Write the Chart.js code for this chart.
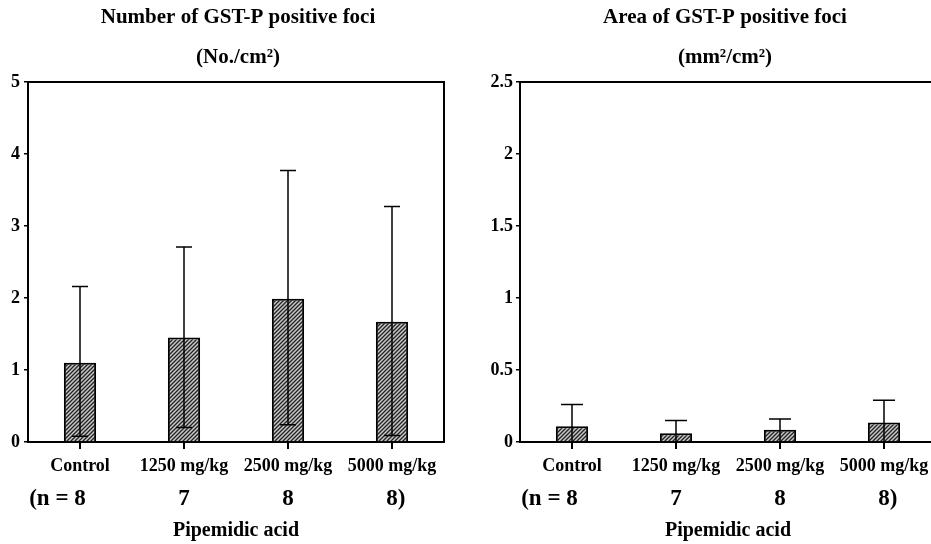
<!DOCTYPE html>
<html>
<head>
<meta charset="utf-8">
<script src="https://cdn.jsdelivr.net/npm/chart.js@4/dist/chart.umd.min.js"></script>
<style>
  html, body { margin: 0; padding: 0; background: #fff; }
  body { width: 931px; height: 544px; overflow: hidden; position: relative; }
  .panel { position: absolute; top: 0; }
  #leftPanel { left: 0; width: 466px; height: 544px; }
  #rightPanel { left: 466px; width: 472px; height: 544px; }
</style>
</head>
<body>
<div class="panel" id="leftPanel"><canvas id="numberChart" width="466" height="544"></canvas></div>
<div class="panel" id="rightPanel"><canvas id="areaChart" width="472" height="544"></canvas></div>
<script>
// Groups and group sizes
const doseLabels = ["Control", "1250 mg/kg", "2500 mg/kg", "5000 mg/kg"];
const groupSizes = ["8", "7", "8", "8"];
const xAxisTitle = "Pipemidic acid";

// Number of GST-P positive foci (No./cm2)
const numberTitle = ["Number of GST-P positive foci", "(No./cm²)"];
const numberMeans = [1.10, 1.45, 1.99, 1.67];
const numberUpper = [2.16, 2.71, 3.77, 3.27];
const numberLower = [0.08, 0.20, 0.24, 0.09];
const numberTicks = [0, 1, 2, 3, 4, 5];

// Area of GST-P positive foci (mm2/cm2)
const areaTitle = ["Area of GST-P positive foci", "(mm²/cm²)"];
const areaMeans = [0.11, 0.06, 0.085, 0.135];
const areaUpper = [0.26, 0.15, 0.16, 0.29];
const areaLower = [0, 0, 0, 0];
const areaTicks = [0, 0.5, 1, 1.5, 2, 2.5];

const FONT = "'Liberation Serif', 'Times New Roman', serif";

function makeHatch() {
  const c = document.createElement("canvas");
  c.width = 4;
  c.height = 4;
  const g = c.getContext("2d");
  g.fillStyle = "#c8c8c8";
  g.fillRect(0, 0, 4, 4);
  g.strokeStyle = "#222";
  g.lineWidth = 1.3;
  g.beginPath();
  g.moveTo(-1, 5); g.lineTo(5, -1);
  g.moveTo(-3, 3); g.lineTo(3, -3);
  g.moveTo(1, 7); g.lineTo(7, 1);
  g.stroke();
  return g.createPattern(c, "repeat");
}

// error bars, frame, panel titles and the (n = ...) row
const decorPlugin = {
  id: "decor",
  afterDatasetsDraw(chart, args, opts) {
    const { ctx, chartArea } = chart;
    const xs = chart.scales.x;
    const ys = chart.scales.y;
    ctx.save();
    ctx.strokeStyle = "#000";
    ctx.lineWidth = 1.5;
    opts.upper.forEach((u, i) => {
      const x = xs.getPixelForValue(i);
      const yTop = ys.getPixelForValue(u);
      const lo = opts.lower[i];
      const yBot = ys.getPixelForValue(Math.max(lo, 0));
      ctx.beginPath();
      ctx.moveTo(x, yBot);
      ctx.lineTo(x, yTop);
      ctx.moveTo(x - opts.cap, yTop);
      ctx.lineTo(x + opts.cap, yTop);
      if (lo > 0) {
        ctx.moveTo(x - opts.cap, yBot);
        ctx.lineTo(x + opts.cap, yBot);
      }
      ctx.stroke();
    });

    // top and right sides of the box
    ctx.lineWidth = 2;
    ctx.beginPath();
    ctx.moveTo(chartArea.left, chartArea.top);
    ctx.lineTo(chartArea.right, chartArea.top);
    ctx.lineTo(chartArea.right, chartArea.bottom);
    ctx.stroke();

    ctx.fillStyle = "#000";
    ctx.textBaseline = "middle";

    // title lines centred over the plot box
    const cx = (chartArea.left + chartArea.right) / 2;
    ctx.font = "bold 21px " + FONT;
    ctx.textAlign = "center";
    opts.title.forEach((line, i) => {
      ctx.fillText(line, cx + opts.titleShift, 18 + i * 40);
    });

    // group sizes: the number sits under the tick, brackets hang outside
    ctx.font = "bold 23px " + FONT;
    const last = groupSizes.length - 1;
    groupSizes.forEach((n, i) => {
      const x = xs.getPixelForValue(i);
      const y = 499;
      ctx.textAlign = "center";
      ctx.fillText(n, x, y);
      const half = ctx.measureText(n).width / 2;
      if (i === 0) {
        ctx.textAlign = "right";
        ctx.fillText("(n = ", x - half, y);
      }
      if (i === last) {
        ctx.textAlign = "left";
        ctx.fillText(")", x + half, y);
      }
    });
    ctx.restore();
  },
};

function buildChart(canvasId, cfg) {
  const ctx = document.getElementById(canvasId);
  return new Chart(ctx, {
    type: "bar",
    data: {
      labels: doseLabels,
      datasets: [
        {
          data: cfg.means,
          backgroundColor: makeHatch(),
          borderColor: "#000",
          borderWidth: 2,
          barPercentage: 0.31,
          categoryPercentage: 1,
        },
      ],
    },
    options: {
      responsive: false,
      animation: false,
      layout: {
        padding: { top: 82, right: cfg.padRight, left: 0, bottom: 0 },
      },
      plugins: {
        legend: { display: false },
        tooltip: { enabled: false },
        decor: {
          upper: cfg.upper,
          lower: cfg.lower,
          cap: cfg.cap,
          title: cfg.title,
          titleShift: cfg.titleShift,
        },
      },
      scales: {
        x: {
          afterFit: (scale) => {
            scale.height = 102;
          },
          border: { display: true, color: "#000", width: 2 },
          grid: {
            offset: false,
            drawOnChartArea: false,
            drawTicks: true,
            tickLength: 7,
            color: "#000",
            lineWidth: 2,
          },
          ticks: {
            color: "#000",
            padding: 7,
            maxRotation: 0,
            autoSkip: false,
            font: { family: FONT, size: 18, weight: "bold", lineHeight: 1.2 },
          },
          title: {
            display: true,
            text: xAxisTitle,
            color: "#000",
            font: { family: FONT, size: 20, weight: "bold" },
            padding: { top: 0, bottom: 1 },
          },
        },
        y: {
          min: 0,
          max: cfg.ticks[cfg.ticks.length - 1],
          afterFit: (scale) => {
            scale.width = cfg.axisWidth;
          },
          afterBuildTicks: (scale) => {
            scale.ticks = cfg.ticks.map((v) => ({ value: v }));
          },
          border: { display: true, color: "#000", width: 2 },
          grid: {
            drawOnChartArea: false,
            drawTicks: true,
            tickLength: 4,
            color: "#000",
            lineWidth: 1.5,
          },
          ticks: {
            color: "#000",
            padding: cfg.tickPad,
            font: { family: FONT, size: 18, weight: "bold" },
            callback: (value) => String(value),
          },
        },
      },
    },
    plugins: [decorPlugin],
  });
}

buildChart("numberChart", {
  means: numberMeans,
  upper: numberUpper,
  lower: numberLower,
  ticks: numberTicks,
  title: numberTitle,
  cap: 8,
  axisWidth: 28,
  padRight: 22,
  tickPad: 4,
  titleShift: 2,
});

buildChart("areaChart", {
  means: areaMeans,
  upper: areaUpper,
  lower: areaLower,
  ticks: areaTicks,
  title: areaTitle,
  cap: 11,
  axisWidth: 54,
  padRight: 2,
  tickPad: 3,
  titleShift: -3,
});
</script>
</body>
</html>
